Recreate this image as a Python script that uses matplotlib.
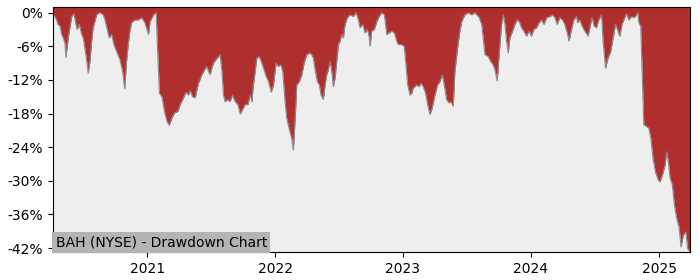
import numpy as np
import pandas as pd
import matplotlib
matplotlib.use("Agg")
import matplotlib.pyplot as plt
import matplotlib.ticker as mticker
import matplotlib.dates as mdates

# drawdown: decimal year, drawdown in %
years = [
    2020.266, 2020.273, 2020.294, 2020.305, 2020.320, 2020.334, 2020.346, 2020.359, 2020.367, 2020.385,
    2020.398, 2020.412, 2020.430, 2020.445, 2020.455, 2020.471, 2020.490, 2020.502, 2020.523, 2020.541,
    2020.555, 2020.568, 2020.580, 2020.607, 2020.621, 2020.633, 2020.659, 2020.672, 2020.690, 2020.705,
    2020.724, 2020.742, 2020.763, 2020.789, 2020.810, 2020.826, 2020.841, 2020.854, 2020.867, 2020.880,
    2020.906, 2020.932, 2020.959, 2020.984, 2021.010, 2021.023, 2021.049, 2021.070, 2021.078, 2021.096,
    2021.115, 2021.135, 2021.154, 2021.172, 2021.193, 2021.213, 2021.240, 2021.258, 2021.284, 2021.302,
    2021.323, 2021.336, 2021.354, 2021.375, 2021.388, 2021.401, 2021.427, 2021.448, 2021.466, 2021.479,
    2021.492, 2021.505, 2021.518, 2021.537, 2021.552, 2021.570, 2021.584, 2021.596, 2021.609, 2021.630,
    2021.648, 2021.666, 2021.688, 2021.709, 2021.727, 2021.745, 2021.766, 2021.787, 2021.805, 2021.818,
    2021.830, 2021.844, 2021.857, 2021.875, 2021.891, 2021.909, 2021.930, 2021.948, 2021.969, 2021.987,
    2022.008, 2022.026, 2022.045, 2022.060, 2022.078, 2022.091, 2022.112, 2022.130, 2022.143, 2022.156,
    2022.170, 2022.190, 2022.209, 2022.227, 2022.248, 2022.268, 2022.287, 2022.299, 2022.313, 2022.330,
    2022.346, 2022.359, 2022.377, 2022.391, 2022.404, 2022.416, 2022.430, 2022.443, 2022.455, 2022.469,
    2022.482, 2022.495, 2022.508, 2022.521, 2022.534, 2022.547, 2022.565, 2022.586, 2022.612, 2022.633,
    2022.651, 2022.664, 2022.685, 2022.703, 2022.721, 2022.737, 2022.742, 2022.755, 2022.776, 2022.795,
    2022.813, 2022.834, 2022.854, 2022.873, 2022.891, 2022.912, 2022.932, 2022.951, 2022.963, 2022.990,
    2023.010, 2023.021, 2023.037, 2023.055, 2023.068, 2023.080, 2023.107, 2023.125, 2023.141, 2023.159,
    2023.177, 2023.193, 2023.211, 2023.229, 2023.250, 2023.271, 2023.289, 2023.307, 2023.323, 2023.341,
    2023.359, 2023.375, 2023.393, 2023.406, 2023.427, 2023.445, 2023.459, 2023.484, 2023.510, 2023.537,
    2023.563, 2023.596, 2023.615, 2023.627, 2023.641, 2023.666, 2023.685, 2023.705, 2023.719, 2023.737,
    2023.752, 2023.771, 2023.784, 2023.797, 2023.810, 2023.823, 2023.836, 2023.857, 2023.875, 2023.893,
    2023.909, 2023.927, 2023.945, 2023.966, 2023.987, 2024.005, 2024.023, 2024.045, 2024.065, 2024.084,
    2024.102, 2024.123, 2024.148, 2024.170, 2024.188, 2024.205, 2024.227, 2024.248, 2024.266, 2024.284,
    2024.299, 2024.318, 2024.336, 2024.357, 2024.365, 2024.383, 2024.401, 2024.422, 2024.448, 2024.461,
    2024.479, 2024.495, 2024.513, 2024.531, 2024.552, 2024.565, 2024.584, 2024.604, 2024.625, 2024.643,
    2024.662, 2024.677, 2024.695, 2024.713, 2024.734, 2024.748, 2024.766, 2024.787, 2024.807, 2024.826,
    2024.836, 2024.844, 2024.859, 2024.870, 2024.883, 2024.904, 2024.922, 2024.938, 2024.955, 2024.974,
    2024.995, 2025.008, 2025.026, 2025.047, 2025.060, 2025.073, 2025.086, 2025.104, 2025.120, 2025.138,
    2025.156, 2025.172, 2025.190, 2025.209, 2025.224, 2025.242,
]
drawdown = [
    -0.5, -0.4, -1.3, -2.1, -2.4, -3.9, -4.5, -5.4, -8.0, -4.5,
    -2.7, -0.7, -0.2, -2.1, -3.0, -2.1, -3.9, -4.5, -7.5, -10.8,
    -8.7, -5.1, -2.7, -0.4, -0.1, 0.0, -0.4, -1.3, -3.0, -4.5,
    -3.9, -5.7, -6.9, -8.4, -10.5, -13.6, -8.7, -5.7, -3.3, -1.8,
    -1.3, -1.3, -0.9, -1.8, -3.9, -1.6, -0.4, 0.0, -4.8, -14.4,
    -15.0, -17.6, -19.4, -20.1, -18.8, -17.9, -17.6, -16.4, -15.2, -14.2,
    -14.7, -13.9, -15.0, -15.2, -13.8, -12.6, -11.1, -10.2, -9.6, -10.5,
    -11.1, -9.9, -9.0, -8.4, -8.0, -7.5, -10.5, -14.7, -15.9, -15.5,
    -15.9, -14.7, -15.9, -16.4, -18.1, -17.3, -16.4, -16.4, -14.7, -15.9,
    -12.9, -10.5, -8.1, -7.8, -8.7, -9.9, -11.4, -12.3, -14.2, -12.9,
    -9.0, -9.6, -9.3, -10.5, -15.9, -18.8, -20.9, -22.4, -24.5, -19.4,
    -12.9, -12.3, -11.1, -9.0, -7.5, -7.2, -7.5, -8.1, -10.2, -12.3,
    -12.9, -14.7, -15.5, -12.9, -11.1, -10.2, -8.7, -10.5, -13.2, -11.7,
    -8.7, -5.7, -5.1, -3.9, -4.5, -2.1, -0.9, -0.4, -0.7, 0.0,
    -1.3, -2.7, -2.1, -3.6, -3.0, -4.5, -6.0, -3.3, -3.0, -1.6,
    -0.7, 0.0, -0.4, -3.9, -3.6, -3.3, -3.6, -5.1, -5.7, -5.7,
    -6.0, -8.7, -12.9, -14.7, -14.4, -13.5, -12.9, -13.2, -12.6, -13.2,
    -14.4, -16.4, -18.2, -17.0, -14.7, -12.9, -12.3, -11.1, -12.9, -15.5,
    -16.1, -15.9, -16.7, -10.5, -6.3, -3.3, -1.6, -0.4, 0.0, -0.4,
    0.0, -0.9, -2.1, -4.5, -7.5, -7.8, -8.7, -9.3, -10.2, -12.2,
    -7.5, -2.1, -0.4, -2.1, -5.1, -7.2, -4.5, -3.3, -2.1, -1.3,
    -1.6, -2.7, -3.3, -4.2, -3.3, -4.2, -3.0, -2.7, -1.8, -1.3,
    -2.1, -0.9, -0.7, -0.4, -0.9, -2.1, -0.9, -1.3, -2.1, -3.6,
    -5.1, -3.0, -1.3, -0.7, -1.8, -1.3, -2.4, -3.3, -4.2, -2.7,
    -0.9, -2.4, -2.7, -1.3, -0.4, -5.1, -9.9, -8.1, -6.9, -4.5,
    -2.1, -3.0, -4.2, -2.1, -0.9, -0.2, -1.3, -0.7, -0.9, -0.4,
    0.0, -1.8, -2.4, -10.5, -20.0, -20.3, -20.6, -22.4, -26.0, -28.4,
    -29.8, -30.2, -29.0, -27.2, -24.8, -26.6, -29.5, -30.7, -34.3, -36.7,
    -38.2, -41.8, -39.7, -39.1, -42.1, -42.7,
]
yticks = [0, -6, -12, -18, -24, -30, -36, -42]
title = "BAH (NYSE) - Drawdown Chart"


def to_date(y):
    yr = int(y)
    start = pd.Timestamp(f"{yr}-01-01")
    return start + pd.Timedelta(days=(y - yr) * 365.25)


dates = [to_date(y) for y in years]
dd = np.array(drawdown)

fig = plt.figure(figsize=(7, 2.8), dpi=100)
ax = fig.add_axes([0.0757, 0.1, 0.91, 0.875])
ax.set_facecolor("#eeeeee")

top = 1.0
ax.fill_between(dates, dd, top, color="#af2f2f", linewidth=0)
ax.plot(dates, dd, color="#8a8a8a", linewidth=0.8)

ax.set_xlim(dates[0], dates[-1])
ax.set_ylim(-42.7, top)
ax.set_yticks(yticks)
ax.yaxis.set_major_formatter(mticker.FuncFormatter(lambda v, p: f"{v:.0f}%"))
ax.xaxis.set_major_locator(mdates.YearLocator())
ax.xaxis.set_major_formatter(mdates.DateFormatter("%Y"))

ax.text(0.004, 0.012, title, transform=ax.transAxes, fontsize=10,
        va="bottom", ha="left",
        bbox=dict(facecolor="#b4b4b4", edgecolor="none", pad=2.5))

fig.savefig("out.png", dpi=100)
